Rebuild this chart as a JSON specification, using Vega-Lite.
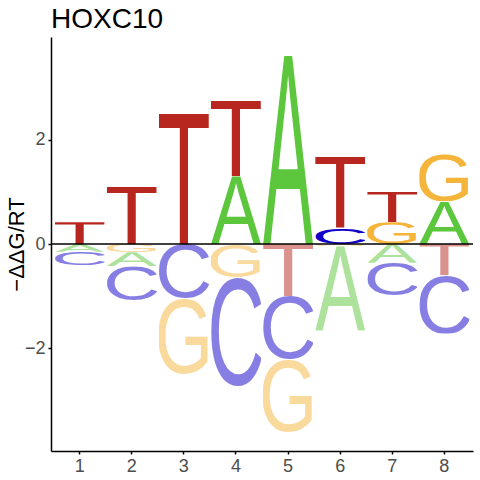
{
  "$schema": "https://vega.github.io/schema/vega-lite/v6.json",
  "autosize": "none",
  "width": 422,
  "height": 414,
  "padding": {"left": 51, "top": 37, "right": 7, "bottom": 29},
  "background": "white",
  "config": {
    "font": "Liberation Sans",
    "view": {"stroke": null},
    "axis": {
      "labelFontSize": 18,
      "labelColor": "#4D4D4D",
      "labelPadding": 3,
      "tickColor": "black",
      "tickWidth": 1.5,
      "tickSize": 3,
      "domainColor": "black",
      "domainWidth": 1.5,
      "grid": false,
      "titleFontSize": 22,
      "titleFontWeight": "normal",
      "titleColor": "black"
    },
    "axisY": {"titlePadding": 1, "titleBaseline": "alphabetic"}
  },
  "title": {
    "text": "HOXC10",
    "anchor": "start",
    "frame": "group",
    "fontSize": 28,
    "fontWeight": "normal",
    "color": "black",
    "offset": 3
  },
  "data": {
    "values": [
      {"pos": 1, "letter": "T", "lo": 0, "hi": 0.42},
      {"pos": 1, "letter": "A", "lo": -0.15, "hi": 0},
      {"pos": 1, "letter": "C", "lo": -0.41, "hi": -0.15},
      {"pos": 2, "letter": "T", "lo": 0, "hi": 1.1},
      {"pos": 2, "letter": "G", "lo": -0.16, "hi": 0},
      {"pos": 2, "letter": "A", "lo": -0.43, "hi": -0.16},
      {"pos": 2, "letter": "C", "lo": -1.09, "hi": -0.43},
      {"pos": 3, "letter": "T", "lo": 0, "hi": 2.5},
      {"pos": 3, "letter": "C", "lo": -1.04, "hi": 0},
      {"pos": 3, "letter": "G", "lo": -2.5, "hi": -1.04},
      {"pos": 4, "letter": "A", "lo": 0, "hi": 1.3},
      {"pos": 4, "letter": "T", "lo": 1.3, "hi": 2.75},
      {"pos": 4, "letter": "G", "lo": -0.64, "hi": 0},
      {"pos": 4, "letter": "C", "lo": -2.74, "hi": -0.64},
      {"pos": 5, "letter": "A", "lo": 0, "hi": 3.615},
      {"pos": 5, "letter": "T", "lo": -1.0, "hi": 0},
      {"pos": 5, "letter": "C", "lo": -2.21, "hi": -1.0},
      {"pos": 5, "letter": "G", "lo": -3.615, "hi": -2.21},
      {"pos": 6, "letter": "C", "lo": 0, "hi": 0.3},
      {"pos": 6, "letter": "T", "lo": 0.3, "hi": 1.68},
      {"pos": 6, "letter": "G", "lo": -0.04, "hi": 0},
      {"pos": 6, "letter": "A", "lo": -1.67, "hi": -0.04},
      {"pos": 7, "letter": "G", "lo": 0, "hi": 0.42},
      {"pos": 7, "letter": "T", "lo": 0.42, "hi": 1.0},
      {"pos": 7, "letter": "A", "lo": -0.36, "hi": 0},
      {"pos": 7, "letter": "C", "lo": -1.0, "hi": -0.36},
      {"pos": 8, "letter": "A", "lo": 0, "hi": 0.82},
      {"pos": 8, "letter": "G", "lo": 0.82, "hi": 1.73},
      {"pos": 8, "letter": "T", "lo": -0.6, "hi": 0},
      {"pos": 8, "letter": "C", "lo": -1.72, "hi": -0.6}
    ]
  },
  "layer": [
    {
      "encoding": {
        "x": {
          "field": "pos",
          "type": "ordinal",
          "scale": {"type": "band", "paddingInner": 0.04, "paddingOuter": 0.07},
          "axis": {"title": null, "labelAngle": 0}
        },
        "y": {
          "field": "lo",
          "type": "quantitative",
          "title": "−ΔΔG/RT",
          "scale": {"domain": [-3.98, 3.98], "nice": false, "zero": false},
          "axis": {"values": [-2, 0, 2]}
        },
        "y2": {"field": "hi"},
        "opacity": {"condition": {"test": "datum.hi <= 0", "value": 0.5}, "value": 1}
      },
      "layer": [
        {
          "transform": [{"filter": "datum.letter == 'A'"}],
          "mark": {"type": "image", "aspect": false, "url": "data:image/svg+xml;charset=utf-8,%3Csvg xmlns='http://www.w3.org/2000/svg' viewBox='0 0 100 100' preserveAspectRatio='none'%3E%3Ctext x='50' y='100' text-anchor='middle' font-family='Liberation Sans' font-size='145.3' textLength='100' lengthAdjust='spacingAndGlyphs' fill='%235CC73C'%3EA%3C/text%3E%3C/svg%3E"}
        },
        {
          "transform": [{"filter": "datum.letter == 'C'"}],
          "mark": {"type": "image", "aspect": false, "url": "data:image/svg+xml;charset=utf-8,%3Csvg xmlns='http://www.w3.org/2000/svg' viewBox='0 0 100 100' preserveAspectRatio='none'%3E%3Ctext x='50' y='98.4' text-anchor='middle' font-family='Liberation Sans' font-size='140' textLength='115' lengthAdjust='spacingAndGlyphs' fill='%231000C8'%3EC%3C/text%3E%3C/svg%3E"}
        },
        {
          "transform": [{"filter": "datum.letter == 'G'"}],
          "mark": {"type": "image", "aspect": false, "url": "data:image/svg+xml;charset=utf-8,%3Csvg xmlns='http://www.w3.org/2000/svg' viewBox='0 0 100 100' preserveAspectRatio='none'%3E%3Ctext x='50' y='98.4' text-anchor='middle' font-family='Liberation Sans' font-size='140' textLength='117' lengthAdjust='spacingAndGlyphs' fill='%23F5B53B'%3EG%3C/text%3E%3C/svg%3E"}
        },
        {
          "transform": [{"filter": "datum.letter == 'T'"}],
          "mark": {"type": "image", "aspect": false, "url": "data:image/svg+xml;charset=utf-8,%3Csvg xmlns='http://www.w3.org/2000/svg' viewBox='0 0 100 100' preserveAspectRatio='none'%3E%3Ctext x='50' y='100' text-anchor='middle' font-family='Liberation Sans' font-size='145.3' textLength='107.7' lengthAdjust='spacingAndGlyphs' fill='%23B8271F'%3ET%3C/text%3E%3C/svg%3E"}
        }
      ]
    },
    {
      "data": {"values": [{"v": 0}]},
      "mark": {"type": "rule", "color": "black", "strokeWidth": 1.5},
      "encoding": {
        "y": {"field": "v", "type": "quantitative", "title": "−ΔΔG/RT"}
      }
    }
  ]
}
